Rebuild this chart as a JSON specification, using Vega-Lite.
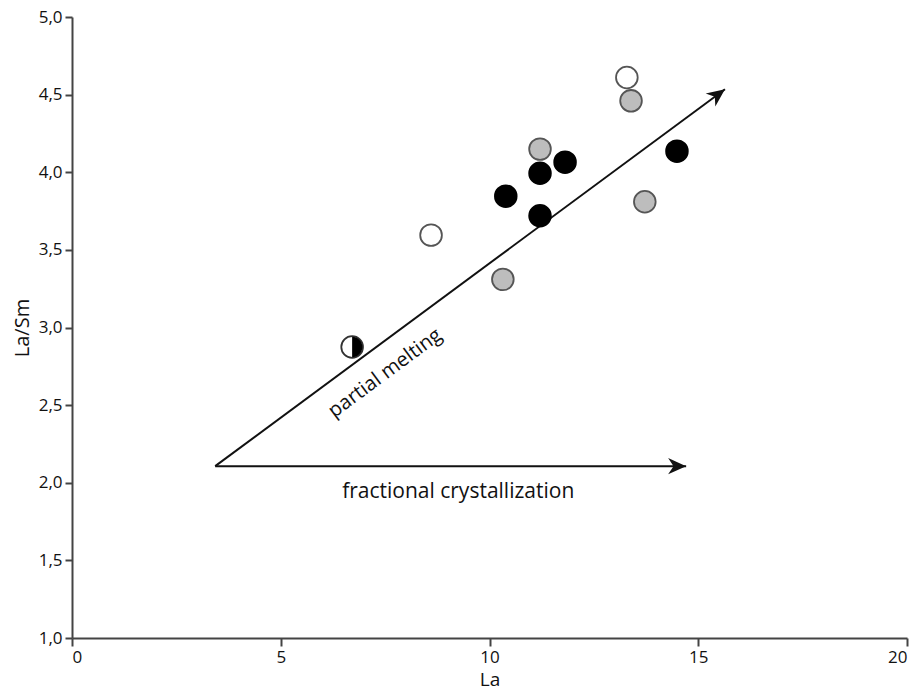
{
  "$schema": "https://vega.github.io/schema/vega-lite/v6.json",
  "width": 835,
  "height": 621,
  "autosize": "none",
  "padding": {"left": 72, "top": 17, "right": 11, "bottom": 55},
  "background": "white",
  "config": {
    "view": {"stroke": null},
    "font": "Open Sans"
  },
  "datasets": {
    "points": [
      {"La": 6.71, "LaSm": 2.874, "group": "half"},
      {"La": 8.60, "LaSm": 3.595, "group": "open"},
      {"La": 10.32, "LaSm": 3.31, "group": "gray"},
      {"La": 10.39, "LaSm": 3.846, "group": "black"},
      {"La": 11.21, "LaSm": 3.72, "group": "black"},
      {"La": 11.21, "LaSm": 3.994, "group": "black"},
      {"La": 11.21, "LaSm": 4.149, "group": "gray"},
      {"La": 11.81, "LaSm": 4.065, "group": "black"},
      {"La": 13.29, "LaSm": 4.61, "group": "open"},
      {"La": 13.39, "LaSm": 4.46, "group": "gray"},
      {"La": 13.72, "LaSm": 3.81, "group": "gray"},
      {"La": 14.49, "LaSm": 4.136, "group": "black"}
    ],
    "arrows": [
      {"name": "partial melting", "x": 3.43, "y": 2.107, "x2": 15.64, "y2": 4.535},
      {"name": "fractional crystallization", "x": 3.43, "y": 2.107, "x2": 14.71, "y2": 2.107}
    ],
    "labels": [
      {"name": "partial melting", "x": 7.5, "y": 2.706},
      {"name": "fractional crystallization", "x": 9.25, "y": 1.94}
    ]
  },
  "layer": [
    {
      "data": {"name": "arrows"},
      "mark": {"type": "rule", "color": "#111", "strokeWidth": 2},
      "encoding": {
        "x": {"field": "x", "type": "quantitative", "scale": {"domain": [0, 20], "nice": false},
          "axis": {"values": [0, 5, 10, 15, 20], "grid": false, "domainColor": "#444", "domainWidth": 2, "tickColor": "#444", "tickWidth": 2, "tickSize": 8, "labelPadding": 3, "labelFont": "Open Sans", "labelFontSize": 17, "labelColor": "#111", "title": "La", "titleFont": "Open Sans", "titleFontSize": 19, "titleFontWeight": "normal", "titleColor": "#111", "titlePadding": 5}},
        "y": {"field": "y", "type": "quantitative", "scale": {"domain": [1, 5], "nice": false, "zero": false},
          "axis": {"values": [1, 1.5, 2, 2.5, 3, 3.5, 4, 4.5, 5], "grid": false, "domainColor": "#444", "domainWidth": 2, "tickColor": "#444", "tickWidth": 2, "tickSize": 7, "labelPadding": 3, "labelFont": "Open Sans", "labelFontSize": 17, "labelColor": "#111", "labelExpr": "replace(format(datum.value, '.1f'), '.', ',')", "title": "La/Sm", "titleFont": "Open Sans", "titleFontSize": 20, "titleFontWeight": "normal", "titleColor": "#111", "titlePadding": 6}},
        "x2": {"field": "x2"},
        "y2": {"field": "y2"}
      }
    },
    {
      "data": {"name": "arrows"},
      "transform": [{"filter": "datum.name === 'partial melting'"}],
      "mark": {"type": "point", "filled": true, "color": "#111", "opacity": 1, "size": 324, "angle": -36.5, "shape": "M0,0 L-2,-0.9 L-1.4,0 L-2,0.9 Z"},
      "encoding": {
        "x": {"field": "x2", "type": "quantitative"},
        "y": {"field": "y2", "type": "quantitative"}
      }
    },
    {
      "data": {"name": "arrows"},
      "transform": [{"filter": "datum.name === 'fractional crystallization'"}],
      "mark": {"type": "point", "filled": true, "color": "#111", "opacity": 1, "size": 324, "angle": 0, "shape": "M0,0 L-2,-0.9 L-1.4,0 L-2,0.9 Z"},
      "encoding": {
        "x": {"field": "x2", "type": "quantitative"},
        "y": {"field": "y2", "type": "quantitative"}
      }
    },
    {
      "data": {"name": "points"},
      "mark": {"type": "point", "filled": true, "opacity": 1, "size": 470, "strokeWidth": 1.8},
      "encoding": {
        "x": {"field": "La", "type": "quantitative"},
        "y": {"field": "LaSm", "type": "quantitative"},
        "fill": {"field": "group", "type": "nominal", "scale": {"domain": ["black", "gray", "open", "half"], "range": ["#000000", "#bdbdbd", "#ffffff", "#ffffff"]}, "legend": null},
        "stroke": {"field": "group", "type": "nominal", "scale": {"domain": ["black", "gray", "open", "half"], "range": ["#000000", "#555555", "#555555", "#333333"]}, "legend": null}
      }
    },
    {
      "data": {"name": "points"},
      "transform": [{"filter": "datum.group === 'half'"}],
      "mark": {"type": "point", "filled": true, "opacity": 1, "color": "#000", "size": 420, "shape": "M0,-1 A1,1 0 0,1 0,1 Z"},
      "encoding": {
        "x": {"field": "La", "type": "quantitative"},
        "y": {"field": "LaSm", "type": "quantitative"}
      }
    },
    {
      "data": {"name": "labels"},
      "transform": [{"filter": "datum.name === 'partial melting'"}],
      "mark": {"type": "text", "font": "Open Sans", "fontSize": 20, "color": "#111", "angle": -36.5, "align": "center", "baseline": "middle"},
      "encoding": {
        "x": {"field": "x", "type": "quantitative"},
        "y": {"field": "y", "type": "quantitative"},
        "text": {"field": "name"}
      }
    },
    {
      "data": {"name": "labels"},
      "transform": [{"filter": "datum.name === 'fractional crystallization'"}],
      "mark": {"type": "text", "font": "Open Sans", "fontSize": 21, "color": "#111", "align": "center", "baseline": "middle"},
      "encoding": {
        "x": {"field": "x", "type": "quantitative"},
        "y": {"field": "y", "type": "quantitative"},
        "text": {"field": "name"}
      }
    }
  ]
}
